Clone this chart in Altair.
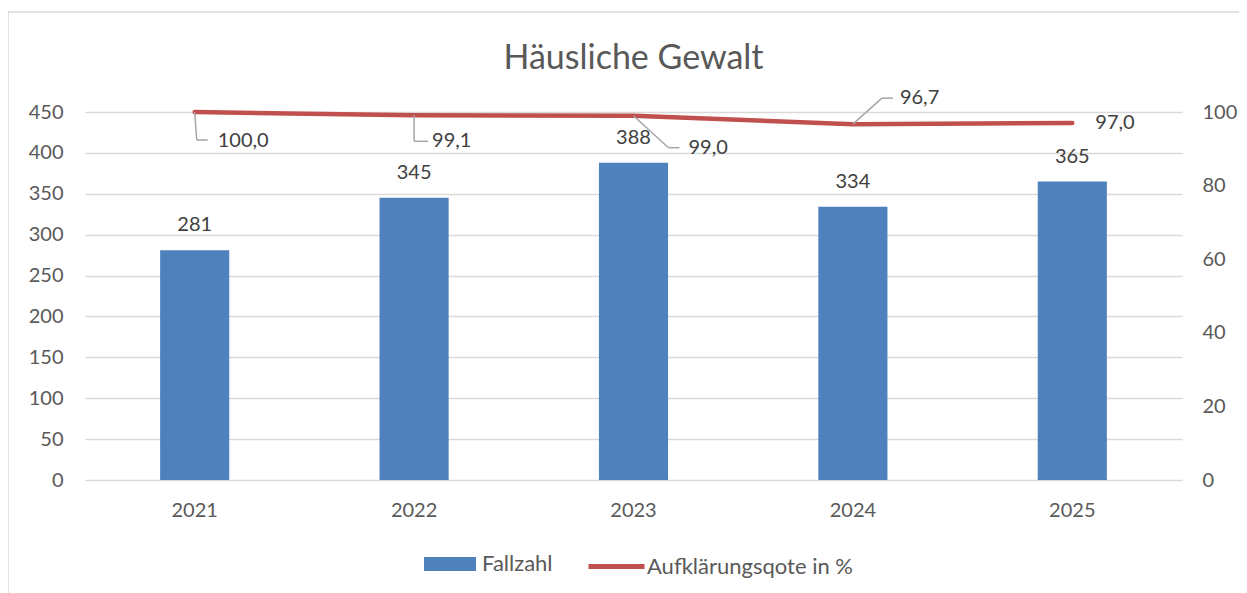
import altair as alt
import pandas as pd

# ---- data ----
years = ["2021", "2022", "2023", "2024", "2025"]
cases = [281, 345, 388, 334, 365]
rates = [100.0, 99.1, 99.0, 96.7, 97.0]
rate_labels = ["100,0", "99,1", "99,0", "96,7", "97,0"]
series_bar = "Fallzahl"
series_line = "Aufklärungsqote in %"
left_ticks = [0, 50, 100, 150, 200, 250, 300, 350, 400, 450]
right_ticks = [0, 20, 40, 60, 80, 100]
title_text = "Häusliche Gewalt"

# ---- styles ----
BLUE = "#4F81BD"
RED = "#C0504D"
GRID = "#D9D9D9"
TXT = "#595959"
LBL = "#404040"
LEAD = "#A6A6A6"
FONT = "Lato"
W, H = 1097, 368

# label placement (pixel offsets relative to the line point): label dx, dy and leader segments
LABEL_STYLE = {
    "2021": {"d": (23, 29), "segs": [(0, 0, 2, 28), (2, 28, 13, 28)]},
    "2022": {"d": (18, 26), "segs": [(0, 0, 0, 26), (0, 26, 14, 26)]},
    "2023": {"d": (55, 32), "segs": [(0, 0, 35, 32), (35, 32, 46, 32)]},
    "2024": {"d": (47, -26), "segs": [(0, 0, 29, -26), (29, -26, 40, -26)]},
    "2025": {"d": (23, 0), "segs": []},
}

df = pd.DataFrame({
    "year": years,
    "cases": cases,
    "rate": rates,
    "rate_label": rate_labels,
})
df["s1"] = series_bar
df["s2"] = series_line

base = alt.Chart(df)

x = alt.X(
    "year:N", title=None,
    scale=alt.Scale(paddingInner=0.685, paddingOuter=0.3425),
    axis=alt.Axis(labelAngle=0, domain=False, ticks=False, grid=False,
                  labelPadding=20, labelFontSize=20, labelColor=TXT, labelFont=FONT),
)
xc = alt.X("year:N", bandPosition=0.5)

yl = alt.Y(
    "cases:Q", title=None,
    scale=alt.Scale(domain=[0, 450], nice=False, zero=True),
    axis=alt.Axis(values=left_ticks, grid=True, gridColor=GRID, gridWidth=1.3,
                  domain=False, ticks=False, labelPadding=22, labelFontSize=20,
                  labelColor=TXT, labelFont=FONT),
)
yr = alt.Y(
    "rate:Q", title=None,
    scale=alt.Scale(domain=[0, 100], nice=False, zero=True),
    axis=alt.Axis(orient="right", values=right_ticks, grid=False, domain=False,
                  ticks=False, labelPadding=20, labelFontSize=20, labelColor=TXT,
                  labelFont=FONT),
)

bars = base.mark_bar().encode(
    x=x, y=yl,
    fill=alt.Fill("s1:N", scale=alt.Scale(domain=[series_bar], range=[BLUE]),
                  legend=alt.Legend(title=None, orient="none", legendX=339, legendY=426,
                                    padding=0,
                                    symbolType="M-1,-0.27L1,-0.27L1,0.27L-1,0.27Z",
                                    symbolSize=2704, symbolStrokeWidth=0,
                                    labelFontSize=22, labelColor=TXT, labelFont=FONT,
                                    labelOffset=6, labelLimit=400)),
)
bar_text = base.mark_text(baseline="alphabetic", dy=-19, fontSize=20, font=FONT,
                          color=LBL).encode(x=x, y=yl, text="cases:Q")

frame = alt.Chart(pd.DataFrame({"k": [0]})).mark_rect(
    fillOpacity=0, stroke=GRID, strokeWidth=1.5
).encode(x=alt.value(-77), x2=alt.value(1400), y=alt.value(-100), y2=alt.value(700))

left = alt.layer(frame, bars, bar_text)

line = base.mark_line(strokeWidth=4.5, strokeCap="round").encode(
    x=x, y=yr,
    stroke=alt.Stroke("s2:N", scale=alt.Scale(domain=[series_line], range=[RED]),
                      legend=alt.Legend(title=None, orient="none", legendX=501, legendY=424,
                                        padding=0, symbolType="stroke",
                                        symbolSize=3136, symbolStrokeWidth=5,
                                        labelFontSize=22, labelColor=TXT, labelFont=FONT,
                                        labelOffset=0, labelLimit=400)),
)

right_layers = [line]
for yv in years:
    st = LABEL_STYLE[yv]
    for (ax, ay, bx, by) in st["segs"]:
        right_layers.append(
            base.transform_filter(alt.datum.year == yv).mark_rule(
                color=LEAD, strokeWidth=1.5,
                xOffset=ax, yOffset=ay, x2Offset=bx, y2Offset=by,
            ).encode(x=xc, x2=alt.X2("year", bandPosition=0.5), y="rate:Q", y2="rate")
        )
    right_layers.append(
        base.transform_filter(alt.datum.year == yv).mark_text(
            align="left", baseline="middle", dx=st["d"][0], dy=st["d"][1],
            fontSize=20, font=FONT, color=LBL,
        ).encode(x=xc, y="rate:Q", text="rate_label:N")
    )

right = alt.layer(*right_layers)

chart = alt.layer(left, right).resolve_scale(y="independent").properties(
    width=W, height=H,
    title=alt.Title(title_text, fontSize=34, font=FONT, color=TXT,
                    fontWeight="normal", anchor="middle", offset=-65),
    autosize=alt.AutoSizeParams(type="none"),
    padding={"left": 77, "top": 104, "right": 57, "bottom": 113},
).configure_view(stroke=None)

chart.save("out.html", embed_options={"renderer": "svg", "actions": False})
